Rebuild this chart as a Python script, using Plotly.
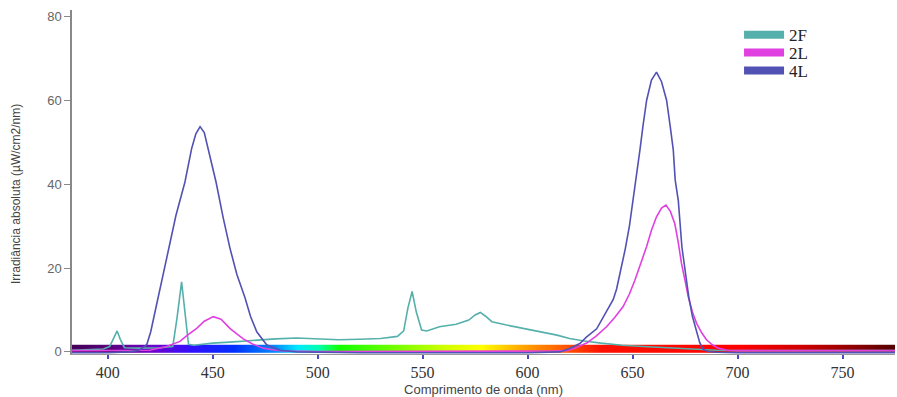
import plotly.graph_objects as go

# ---- data ----
wl_2f = [383, 390, 398, 401, 403, 404.5, 406, 408, 415, 425, 431, 433, 435.2, 437, 438.5, 441,
         450, 460, 470, 480, 490, 500, 510, 520, 530, 538, 541, 543, 545, 547, 549.5, 552,
         558, 566, 572, 575, 577.5, 580, 583, 590, 597, 605, 614, 620, 627, 635, 645, 655,
         665, 675, 684, 690, 700, 720, 750, 775]
val_2f = [0.4, 0.5, 0.7, 1.3, 3.2, 5.0, 3.0, 1.0, 0.9, 1.0, 1.3, 8.0, 16.7, 8.0, 1.8, 1.6,
          2.1, 2.4, 2.8, 3.1, 3.3, 3.1, 2.9, 3.0, 3.2, 3.7, 5.0, 10.5, 14.4, 9.5, 5.2, 5.0,
          6.0, 6.6, 7.6, 8.8, 9.4, 8.5, 7.2, 6.4, 5.7, 4.8, 4.0, 3.2, 2.6, 2.1, 1.6, 1.3,
          1.0, 0.7, 0.5, 0.4, 0.3, 0.3, 0.3, 0.3]

wl_2l = [383, 400, 420, 428, 431, 434.4, 438, 442.4, 446, 450.3, 454, 458.2, 461.5, 464.6,
         469, 474, 480, 485, 500, 550, 600, 612, 618.6, 623, 628.1, 632.5, 637.6, 641.5,
         645.5, 648.5, 651.1, 654, 656.7, 659, 661.4, 663.8, 665.9, 668, 670.1, 671.8,
         673.3, 675, 676.5, 678.5, 680.5, 683, 685.2, 688, 690.8, 695, 700, 750, 775]
val_2l = [0.3, 0.3, 0.4, 1.3, 1.8, 2.5, 4.0, 5.6, 7.3, 8.4, 7.8, 5.6, 4.3, 3.1,
          1.9, 0.9, 0.4, 0.2, 0.1, 0.1, 0.1, 0.2, 0.3, 1.0, 2.1, 3.7, 6.0, 8.2,
          10.8, 13.8, 17.1, 21.0, 25.1, 29.0, 32.2, 34.3, 35.0, 33.5, 30.6, 26.0,
          21.1, 17.0, 13.2, 9.5, 6.8, 4.5, 2.9, 1.7, 0.9, 0.4, 0.3, 0.3, 0.3]

wl_4l = [383, 400, 410, 415, 418.6, 420.5, 424, 426.5, 429.3, 432.5, 436.8, 440, 442, 444,
         446, 447.8, 451.6, 455, 458.2, 461.5, 465.4, 468, 471, 475.7, 482, 490, 520, 560,
         600, 615.4, 620, 624.9, 628, 632.9, 634.4, 637.5, 640.8, 642.4, 644.5, 646.5, 648.5,
         650.3, 652, 653.5, 655, 656.7, 659, 661.4, 663.8, 666.2, 668, 669.4, 670.3, 671.8,
         673.5, 675, 676.8, 678.5, 680.5, 682, 683.6, 686, 690, 700, 750, 775]
val_4l = [-0.2, -0.2, 0.0, 0.4, 1.7, 4.8, 12.9, 18.5, 24.8, 32.5, 40.5, 48.5, 52.0, 53.7,
          52.3, 48.5, 40.5, 32.0, 24.8, 18.5, 12.9, 8.5, 4.8, 1.7, 0.4, 0.0, -0.2, -0.2,
          -0.2, 0.0, 0.8, 2.0, 3.5, 5.5, 6.8, 9.5, 12.5, 15.0, 19.5, 24.5, 30.0,
          36.2, 42.0, 48.1, 54.0, 60.0, 64.8, 66.7, 64.4, 60.0, 53.5, 48.1, 41.0, 36.0,
          25.0, 19.5, 13.0, 8.5, 5.0, 2.2, 0.6, 0.1, -0.1, -0.2, -0.2, -0.2]

series_names = ["2F", "2L", "4L"]
series_colors = ["#55b0ac", "#e040e0", "#5252b4"]

# visible-spectrum colour strip
spec_wl = [383, 400, 420, 440, 460, 480, 490, 500, 510, 540, 560, 578, 595, 615, 635, 700, 730, 760, 775]
spec_col = ["#45005a", "#58007a", "#7000c8", "#3010ff", "#0030ff", "#0090ff", "#00e8ff", "#00ffb0",
            "#10ff00", "#80ff00", "#d0ff00", "#ffff00", "#ffb000", "#ff6000", "#ff1000", "#ff0000",
            "#d00000", "#800000", "#500000"]
strip_edges = [-0.3, 0.7, 1.7]

x_ticks = [400, 450, 500, 550, 600, 650, 700, 750]
y_ticks = [0, 20, 40, 60, 80]

fig = go.Figure()

lo, hi = spec_wl[0], spec_wl[-1]
cscale = [[(w - lo) / (hi - lo), c] for w, c in zip(spec_wl, spec_col)]
fig.add_trace(go.Heatmap(
    x=spec_wl, y=strip_edges, z=[spec_wl, spec_wl], zmin=lo, zmax=hi,
    colorscale=cscale, zsmooth="best", showscale=False, hoverinfo="skip"))

for xs, ys, name, col in [(wl_2f, val_2f, "2F", series_colors[0]),
                          (wl_2l, val_2l, "2L", series_colors[1]),
                          (wl_4l, val_4l, "4L", series_colors[2])]:
    fig.add_trace(go.Scatter(x=xs, y=ys, mode="lines", name=name,
                             line=dict(color=col, width=1.6), showlegend=False))

legend_ids = ["legend", "legend2", "legend3"]
legend_y = [0.927, 0.875, 0.823]
for name, col, lid in zip(series_names, series_colors, legend_ids):
    fig.add_trace(go.Scatter(x=[None], y=[None], mode="lines", name=name, legend=lid,
                             line=dict(color=col, width=8), showlegend=True))

legend_style = dict(xanchor="left", yanchor="middle",
                    font=dict(family="Liberation Serif", size=17, color="#222"),
                    bgcolor="rgba(0,0,0,0)", itemwidth=40)

fig.update_layout(
    width=897, height=397,
    margin=dict(l=72, r=2, t=10, b=43),
    paper_bgcolor="white", plot_bgcolor="white",
    showlegend=True,
    legend=dict(x=0.8105, y=legend_y[0], **legend_style),
    legend2=dict(x=0.8105, y=legend_y[1], **legend_style),
    legend3=dict(x=0.8105, y=legend_y[2], **legend_style),
    xaxis=dict(range=[383, 775], tickvals=x_ticks, ticks="outside", ticklen=4, tickwidth=2,
               tickcolor="#4848c0", showline=True, linecolor="#999", showgrid=False,
               zeroline=False,
               tickfont=dict(family="Liberation Serif", size=16, color="#333"),
               title=dict(text="Comprimento de onda (nm)", standoff=5,
                          font=dict(family="Liberation Sans", size=13, color="#444"))),
    yaxis=dict(range=[-0.5, 81.5], tickvals=y_ticks, ticks="outside", ticklen=6, tickwidth=1,
               tickcolor="#888", showline=True, linecolor="#888", linewidth=1.5,
               showgrid=False, zeroline=False,
               tickfont=dict(family="Liberation Sans", size=13, color="#666")),
    annotations=[dict(text="Irradiância absoluta (µW/cm2/nm)", textangle=-90,
                      xref="paper", yref="paper", x=-0.068, y=0.465,
                      xanchor="center", yanchor="middle", showarrow=False,
                      font=dict(family="Liberation Sans", size=12, color="#444"))],
)

fig.write_html("out.html")
